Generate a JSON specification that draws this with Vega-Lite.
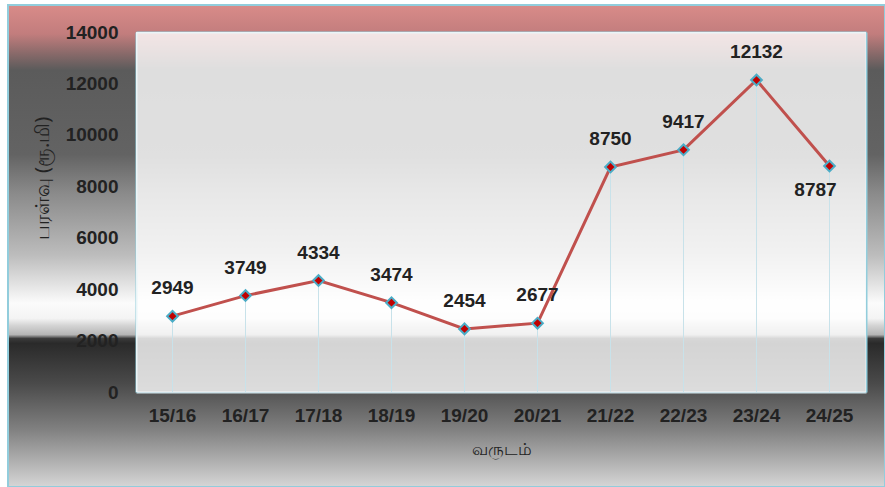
{
  "$schema": "https://vega.github.io/schema/vega-lite/v6.json",
  "width": 877,
  "height": 482,
  "autosize": {"type": "none"},
  "padding": {"left": 8, "top": 5, "right": 0, "bottom": 0},
  "background": "white",
  "config": {
    "view": {
      "stroke": "#92cddc",
      "strokeWidth": 2,
      "fill": {
        "gradient": "linear", "x1": 0, "y1": 0, "x2": 0, "y2": 1,
        "stops": [
          {"offset": 0, "color": "#d98b89"},
          {"offset": 0.06, "color": "#c27d7d"},
          {"offset": 0.1, "color": "#8a6a6a"},
          {"offset": 0.135, "color": "#5b5b5b"},
          {"offset": 0.31, "color": "#636363"},
          {"offset": 0.39, "color": "#8a8a8a"},
          {"offset": 0.52, "color": "#bdbdbd"},
          {"offset": 0.585, "color": "#e6e6e6"},
          {"offset": 0.618, "color": "#fbfbfb"},
          {"offset": 0.65, "color": "#f4f4f4"},
          {"offset": 0.665, "color": "#d4d4d4"},
          {"offset": 0.684, "color": "#b5b5b5"},
          {"offset": 0.692, "color": "#3a3a3a"},
          {"offset": 0.702, "color": "#2a2a2a"},
          {"offset": 0.785, "color": "#4a4a4a"},
          {"offset": 0.88, "color": "#808080"},
          {"offset": 1, "color": "#d6d6d6"}
        ]
      }
    },
    "axis": {
      "labelFont": "Liberation Sans",
      "labelFontWeight": "bold",
      "labelFontSize": 19,
      "labelColor": "#222222",
      "titleFont": "Noto Sans",
      "titleFontWeight": "normal",
      "titleFontSize": 17,
      "titleColor": "#222222",
      "ticks": false,
      "grid": false
    }
  },
  "data": {
    "values": [
      {"year": "15/16", "value": 2949},
      {"year": "16/17", "value": 3749},
      {"year": "17/18", "value": 4334},
      {"year": "18/19", "value": 3474},
      {"year": "19/20", "value": 2454},
      {"year": "20/21", "value": 2677},
      {"year": "21/22", "value": 8750},
      {"year": "22/23", "value": 9417},
      {"year": "23/24", "value": 12132},
      {"year": "24/25", "value": 8787}
    ]
  },
  "resolve": {"axis": {"y": "independent"}},
  "layer": [
    {
      "mark": {"type": "bar", "color": "white", "opacity": 0.8},
      "encoding": {
        "x": {
          "field": "year", "type": "nominal", "sort": null,
          "scale": {"range": [128, 858], "paddingInner": 0, "paddingOuter": 0},
          "axis": {
            "title": "வருடம்", "labelAngle": 0, "offset": -95,
            "domainColor": "#cfe3ea", "domainWidth": 2,
            "labelPadding": 14, "titleY": 57, "titleBaseline": "middle"
          }
        },
        "y": {
          "datum": 14000, "type": "quantitative",
          "scale": {"domain": [0, 14000], "range": [387, 27], "nice": false},
          "axis": {
            "title": "பரள்வு (ரூ.மி)", "values": [0, 2000, 4000, 6000, 8000, 10000, 12000, 14000],
            "format": "d", "titleFontSize": 20,
            "offset": -128, "domainColor": "#92cddc", "domainWidth": 2,
            "labelPadding": 18, "titleX": -94, "titleY": 173,
            "titleAngle": -90, "titleAlign": "center", "titleBaseline": "middle",
            "grid": true, "gridWidth": 2,
            "gridColor": {"condition": {"test": "datum.value === 14000", "value": "#92cddc"}, "value": "transparent"}
          }
        }
      }
    },
    {
      "mark": {"type": "bar", "opacity": 0},
      "encoding": {
        "x": {"field": "year", "type": "nominal", "sort": null},
        "y": {
          "datum": 14000, "type": "quantitative",
          "axis": {"orient": "right", "offset": -19, "labels": false, "title": null, "domainColor": "#92cddc", "domainWidth": 2}
        }
      }
    },
    {
      "mark": {"type": "bar", "color": "#c8e2ea", "size": 1},
      "encoding": {
        "x": {"field": "year", "type": "nominal", "sort": null},
        "y": {"field": "value", "type": "quantitative", "axis": null}
      }
    },
    {
      "mark": {"type": "line", "color": "#c0504d", "strokeWidth": 3},
      "encoding": {
        "x": {"field": "year", "type": "nominal", "sort": null},
        "y": {"field": "value", "type": "quantitative", "axis": null}
      }
    },
    {
      "mark": {"type": "point", "shape": "diamond", "size": 115, "filled": true, "fill": "#c00000", "stroke": "#4bacc6", "strokeWidth": 2, "opacity": 1},
      "encoding": {
        "x": {"field": "year", "type": "nominal", "sort": null},
        "y": {"field": "value", "type": "quantitative", "axis": null}
      }
    },
    {
      "transform": [{"filter": "datum.year != '24/25'"}],
      "mark": {"type": "text", "font": "Liberation Sans", "fontWeight": "bold", "fontSize": 19, "color": "#222222", "baseline": "middle", "dy": -28},
      "encoding": {
        "x": {"field": "year", "type": "nominal", "sort": null},
        "y": {"field": "value", "type": "quantitative", "axis": null},
        "text": {"field": "value", "type": "quantitative", "format": "d"}
      }
    },
    {
      "transform": [{"filter": "datum.year == '24/25'"}],
      "mark": {"type": "text", "font": "Liberation Sans", "fontWeight": "bold", "fontSize": 19, "color": "#222222", "baseline": "middle", "dy": 24, "dx": -14},
      "encoding": {
        "x": {"field": "year", "type": "nominal", "sort": null},
        "y": {"field": "value", "type": "quantitative", "axis": null},
        "text": {"field": "value", "type": "quantitative", "format": "d"}
      }
    }
  ]
}
